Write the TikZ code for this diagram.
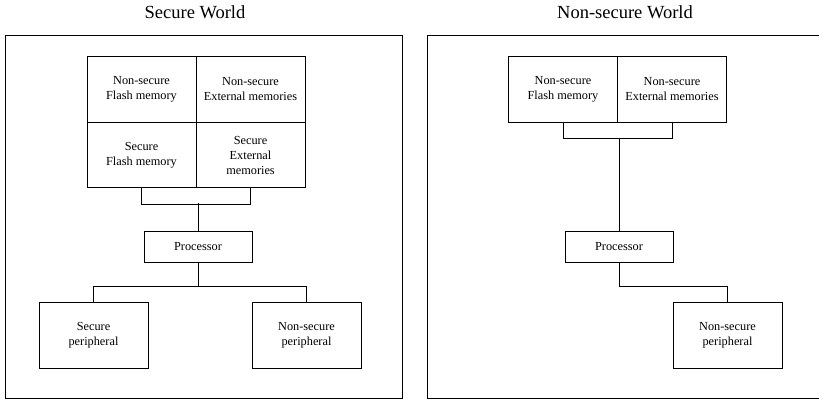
\documentclass[tikz,border=0pt]{standalone}
\usepackage{fontspec}
\setmainfont{Liberation Serif}
\usepackage{tikz}
\usetikzlibrary{positioning}

\begin{document}
\begin{tikzpicture}[
  x=1pt, y=-1pt,
  font=\fontsize{12.3}{15}\selectfont,
  world/.style   ={draw,line width=0.9pt,inner sep=0pt},
  title/.style   ={font=\fontsize{18.5}{20}\selectfont},
  memcell/.style ={draw,line width=0.7pt,align=center,inner sep=2pt,
                    minimum width=109pt,minimum height=65.5pt},
  cpu/.style     ={draw,line width=0.7pt,align=center,inner sep=2pt,
                    minimum width=108pt,minimum height=31pt},
  periph/.style  ={draw,line width=0.7pt,align=center,inner sep=2pt,
                    minimum width=109pt,minimum height=66pt},
  bus/.style     ={draw,line width=0.7pt},
  node distance  =-0.7pt and -0.7pt]

\useasboundingbox (0,0) rectangle (819,399);

% --- the two worlds ---
\node[world,minimum width=397pt,minimum height=363pt] (sworld) at (203.5,216.5) {};
\node[world,minimum width=403pt,minimum height=363pt] (nsworld) at (628.5,216.5) {};
\node[title] (stitle)  at (195,12) {Secure World};
\node[title] (nstitle) at (625,12) {Non-secure World};

% --- secure world: memories ---
\node[memcell] (nsflash) at (141.5,89.5) {Non-secure\\Flash memory};
\node[memcell,right=of nsflash] (nsext) {Non-secure\\External memories};
\node[memcell,below=of nsflash] (sflash) {Secure\\Flash memory};
\node[memcell,below=of nsext]   (sext)   {Secure\\External\\memories};

% --- secure world: processor and peripherals ---
\node[cpu] (proc) at (198,246.5) {Processor};
\node[periph] (sper)  at (93.5,335)  {Secure\\peripheral};
\node[periph] (nsper) at (306.5,335) {Non-secure\\peripheral};

\coordinate (sbus) at (196,203);
\draw[bus] (sflash.south) -- ++(0,16) -| (sext.south);
\draw[bus] (proc.north) -- (proc.north |- sbus);
\draw[bus] (proc.south) -- ++(0,24) -| (sper.north);
\draw[bus] (proc.south) -- ++(0,24) -| (nsper.north);

% --- non-secure world: memories ---
\node[memcell] (rnsflash) at (563,89.5) {Non-secure\\Flash memory};
\node[memcell,right=of rnsflash] (rnsext) {Non-secure\\External memories};

% --- non-secure world: processor and peripheral ---
\node[cpu] (rproc) at (619,246.5) {Processor};
\node[periph] (rnsper) at (727.5,335) {Non-secure\\peripheral};

\coordinate (nsbus) at (617.5,138);
\draw[bus] (rnsflash.south) -- ++(0,16) -| (rnsext.south);
\draw[bus] (rproc.north) -- (rproc.north |- nsbus);
\draw[bus] (rproc.south) -- ++(0,24) -| (rnsper.north);

\end{tikzpicture}
\end{document}
